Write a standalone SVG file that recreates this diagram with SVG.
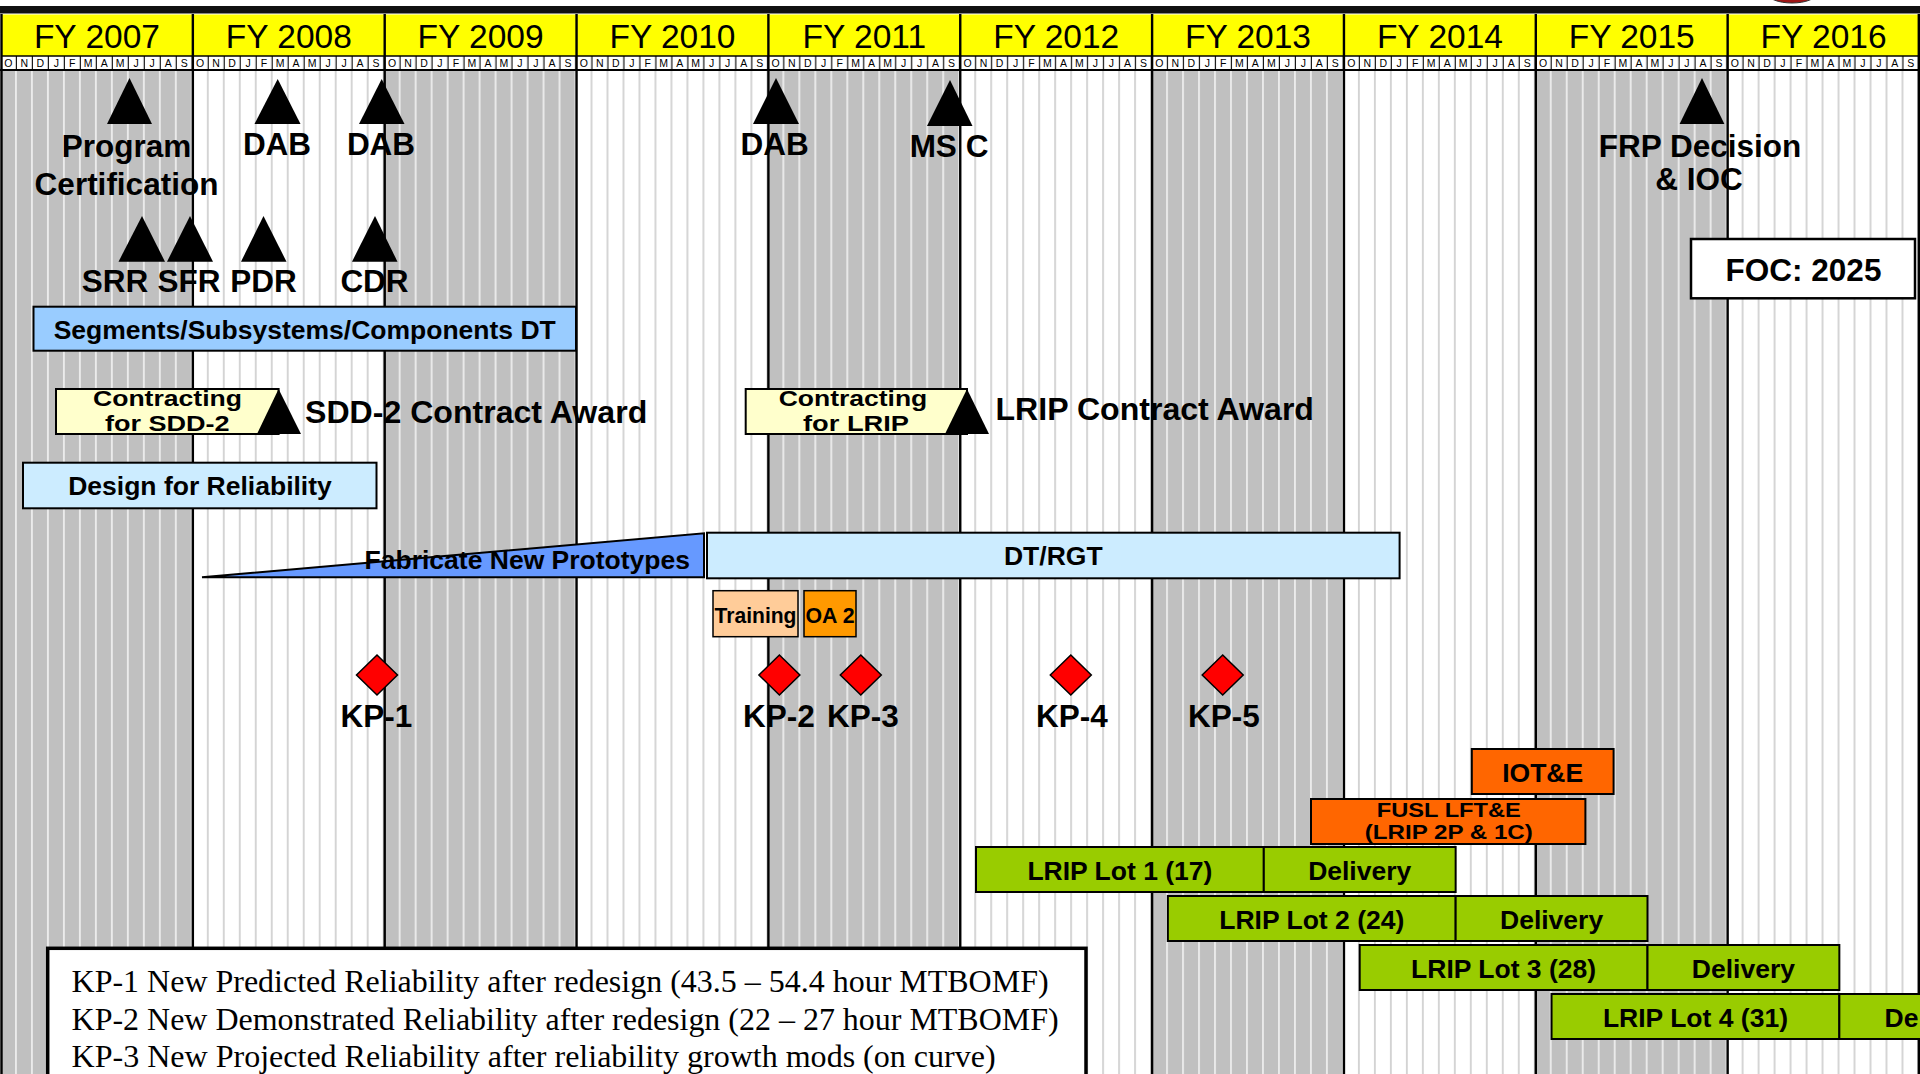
<svg xmlns="http://www.w3.org/2000/svg" width="1920" height="1074" viewBox="0 0 1920 1074">
<style>
.lbl{font-family:"Liberation Sans",Arial,sans-serif;font-weight:bold;font-size:31.5px;fill:#000;text-anchor:middle}
.lbls{font-family:"Liberation Sans",Arial,sans-serif;font-weight:bold;font-size:32.1px;fill:#000}
.bt{font-family:"Liberation Sans",Arial,sans-serif;font-weight:bold;font-size:26.5px;fill:#000;text-anchor:middle}
.st{font-family:"Liberation Sans",Arial,sans-serif;font-weight:bold;font-size:22.5px;fill:#000;text-anchor:middle}
.fs{font-family:"Liberation Sans",Arial,sans-serif;font-weight:bold;font-size:19.5px;fill:#000;text-anchor:middle}
.yr{font-family:"Liberation Sans",Arial,sans-serif;font-size:33.5px;fill:#000;text-anchor:middle}
.mo{font-family:"Liberation Sans",Arial,sans-serif;font-size:10.5px;fill:#000;text-anchor:middle}
.leg{font-family:"Liberation Serif","Times New Roman",serif;font-size:31px;fill:#000}
.tri{fill:#000}
.bar{stroke:#000;stroke-width:2}
.kp{fill:#FF0000;stroke:#000;stroke-width:1.5}
.yl{stroke:#000;stroke-width:2.4}
.lot{fill:#99CC00;stroke:#000;stroke-width:2}
.org{fill:#FF6600;stroke:#000;stroke-width:2}
.cyan{fill:#CCECFF}
.ylw{fill:#FFFFCC}
</style>
<defs>
<pattern id="pGrey" x="1" y="0" width="15.9875" height="20" patternUnits="userSpaceOnUse"><rect width="16" height="20" fill="#C0C0C0"/><rect x="14.3" width="1.3" height="20" fill="#FFFFFF"/></pattern>
<pattern id="pWhite" x="1" y="0" width="15.9875" height="20" patternUnits="userSpaceOnUse"><rect width="16" height="20" fill="#FFFFFF"/><rect x="14.3" width="1.3" height="20" fill="#C0C0C0"/></pattern>
<pattern id="pMon" x="1" y="56" width="15.9875" height="14" patternUnits="userSpaceOnUse"><rect width="16" height="14" fill="#FFFFFF"/><rect x="14.8" width="1.1" height="14" fill="#000"/></pattern>
</defs>
<rect width="1920" height="1074" fill="#FFFFFF"/>
<ellipse cx="1792" cy="-7" rx="25" ry="10" fill="#A01818" stroke="#333" stroke-width="1"/>
<rect x="0" y="6" width="1920" height="7.5" fill="#111"/>

<g id="background">
<rect x="0" y="70" width="192.85" height="1004" fill="url(#pGrey)"/>
<rect x="192.85" y="70" width="191.85" height="1004" fill="url(#pWhite)"/>
<rect x="384.7" y="70" width="191.85" height="1004" fill="url(#pGrey)"/>
<rect x="576.55" y="70" width="191.85" height="1004" fill="url(#pWhite)"/>
<rect x="768.4" y="70" width="191.85" height="1004" fill="url(#pGrey)"/>
<rect x="960.25" y="70" width="191.85" height="1004" fill="url(#pWhite)"/>
<rect x="1152.1" y="70" width="191.85" height="1004" fill="url(#pGrey)"/>
<rect x="1343.95" y="70" width="191.85" height="1004" fill="url(#pWhite)"/>
<rect x="1535.8" y="70" width="191.85" height="1004" fill="url(#pGrey)"/>
<rect x="1727.65" y="70" width="192.35" height="1004" fill="url(#pWhite)"/>
</g>

<g id="header">
<rect x="1" y="14.5" width="1918.5" height="41.5" fill="#FFFF00"/>
<rect x="1" y="56" width="1918.5" height="14" fill="url(#pMon)"/>
<line x1="1" y1="56" x2="1919.5" y2="56" stroke="#000" stroke-width="1.5"/>
<line x1="0" y1="70" x2="1920" y2="70" stroke="#000" stroke-width="1.8"/>
<text class="yr" x="96.9" y="48">FY 2007</text>
<text class="yr" x="288.8" y="48">FY 2008</text>
<text class="yr" x="480.6" y="48">FY 2009</text>
<text class="yr" x="672.5" y="48">FY 2010</text>
<text class="yr" x="864.3" y="48">FY 2011</text>
<text class="yr" x="1056.2" y="48">FY 2012</text>
<text class="yr" x="1248" y="48">FY 2013</text>
<text class="yr" x="1439.9" y="48">FY 2014</text>
<text class="yr" x="1631.7" y="48">FY 2015</text>
<text class="yr" x="1823.6" y="48">FY 2016</text>
<g class="months">
<text class="mo" x="8.3 24.3 40.3 56.3 72.2 88.2 104.2 120.2 136.2 152.2 168.2 184.2" y="66.8">ONDJFMAMJJAS</text>
<text class="mo" transform="translate(191.85,0)" x="8.3 24.3 40.3 56.3 72.2 88.2 104.2 120.2 136.2 152.2 168.2 184.2" y="66.8">ONDJFMAMJJAS</text>
<text class="mo" transform="translate(383.7,0)" x="8.3 24.3 40.3 56.3 72.2 88.2 104.2 120.2 136.2 152.2 168.2 184.2" y="66.8">ONDJFMAMJJAS</text>
<text class="mo" transform="translate(575.55,0)" x="8.3 24.3 40.3 56.3 72.2 88.2 104.2 120.2 136.2 152.2 168.2 184.2" y="66.8">ONDJFMAMJJAS</text>
<text class="mo" transform="translate(767.4,0)" x="8.3 24.3 40.3 56.3 72.2 88.2 104.2 120.2 136.2 152.2 168.2 184.2" y="66.8">ONDJFMAMJJAS</text>
<text class="mo" transform="translate(959.25,0)" x="8.3 24.3 40.3 56.3 72.2 88.2 104.2 120.2 136.2 152.2 168.2 184.2" y="66.8">ONDJFMAMJJAS</text>
<text class="mo" transform="translate(1151.1,0)" x="8.3 24.3 40.3 56.3 72.2 88.2 104.2 120.2 136.2 152.2 168.2 184.2" y="66.8">ONDJFMAMJJAS</text>
<text class="mo" transform="translate(1342.95,0)" x="8.3 24.3 40.3 56.3 72.2 88.2 104.2 120.2 136.2 152.2 168.2 184.2" y="66.8">ONDJFMAMJJAS</text>
<text class="mo" transform="translate(1534.8,0)" x="8.3 24.3 40.3 56.3 72.2 88.2 104.2 120.2 136.2 152.2 168.2 184.2" y="66.8">ONDJFMAMJJAS</text>
<text class="mo" transform="translate(1726.65,0)" x="8.3 24.3 40.3 56.3 72.2 88.2 104.2 120.2 136.2 152.2 168.2 184.2" y="66.8">ONDJFMAMJJAS</text>
</g>
</g>

<g id="year-lines">
<line class="yl" x1="1.5" y1="14" x2="1.5" y2="1074"/>
<line class="yl" x1="192.85" y1="14" x2="192.85" y2="1074"/>
<line class="yl" x1="384.7" y1="14" x2="384.7" y2="1074"/>
<line class="yl" x1="576.55" y1="14" x2="576.55" y2="1074"/>
<line class="yl" x1="768.4" y1="14" x2="768.4" y2="1074"/>
<line class="yl" x1="960.25" y1="14" x2="960.25" y2="1074"/>
<line class="yl" x1="1152.1" y1="14" x2="1152.1" y2="1074"/>
<line class="yl" x1="1343.95" y1="14" x2="1343.95" y2="1074"/>
<line class="yl" x1="1535.8" y1="14" x2="1535.8" y2="1074"/>
<line class="yl" x1="1727.65" y1="14" x2="1727.65" y2="1074"/>
<line class="yl" x1="1918.8" y1="14" x2="1918.8" y2="1074"/>
</g>

<g id="connectors"></g>

<g id="ms-program-certification">
<polygon class="tri" points="129.5,78 107,124 152,124"/>
<text class="lbl" x="126.5" y="157">Program</text>
<text class="lbl" x="126.5" y="195">Certification</text>
</g>
<g id="ms-dab-1">
<polygon class="tri" points="277.7,79 254.5,124 300.5,124"/>
<text class="lbl" x="277" y="155">DAB</text>
</g>
<g id="ms-dab-2">
<polygon class="tri" points="381.7,79 359,124 404.5,124"/>
<text class="lbl" x="381" y="155">DAB</text>
</g>
<g id="ms-dab-3">
<polygon class="tri" points="776,78 753,124 799,124"/>
<text class="lbl" x="774.6" y="155">DAB</text>
</g>
<g id="ms-msc">
<polygon class="tri" points="950,80 927,126 972.5,126"/>
<text class="lbl" x="949" y="157">MS C</text>
</g>
<g id="ms-frp">
<polygon class="tri" points="1702,78 1679.6,124 1724.4,124"/>
<text class="lbl" x="1700" y="157">FRP Decision</text>
<text class="lbl" x="1699" y="190">&amp; IOC</text>
</g>
<g id="foc">
<rect x="1691" y="239" width="224" height="59.3" fill="#FFFFFF" stroke="#000" stroke-width="2.5"/>
<text class="lbl" x="1803.5" y="280.7">FOC: 2025</text>
</g>

<g id="ms-srr">
<polygon class="tri" points="142,216 118.5,261.7 165,261.7"/>
<text class="lbl" x="115" y="292">SRR</text>
</g>
<g id="ms-sfr">
<polygon class="tri" points="190,216 167,261.7 213,261.7"/>
<text class="lbl" x="189" y="292">SFR</text>
</g>
<g id="ms-pdr">
<polygon class="tri" points="263.5,216 241,261.7 286.5,261.7"/>
<text class="lbl" x="263.5" y="292">PDR</text>
</g>
<g id="ms-cdr">
<polygon class="tri" points="375,216 352,261.7 397.5,261.7"/>
<text class="lbl" x="374.5" y="292">CDR</text>
</g>

<g id="segments-dt">
<rect class="bar" x="33.5" y="306.7" width="542.5" height="44" fill="#99CCFF"/>
<text class="bt" x="304.7" y="339">Segments/Subsystems/Components DT</text>
</g>

<g id="contracting-sdd2">
<rect class="bar ylw" x="56" y="389" width="222.6" height="45"/>
<polygon class="tri" points="278.6,389 257,434 301,434"/>
<text class="st" x="167.5" y="406" textLength="149" lengthAdjust="spacingAndGlyphs">Contracting</text>
<text class="st" x="167.3" y="431" textLength="124.6" lengthAdjust="spacingAndGlyphs">for SDD-2</text>
<text class="lbls" x="305" y="423">SDD-2 Contract Award</text>
</g>

<g id="contracting-lrip">
<rect class="bar ylw" x="745.7" y="389" width="221.3" height="45"/>
<polygon class="tri" points="967,389 945,434 989,434"/>
<text class="st" x="853" y="406" textLength="148.6" lengthAdjust="spacingAndGlyphs">Contracting</text>
<text class="st" x="856" y="431" textLength="106" lengthAdjust="spacingAndGlyphs">for LRIP</text>
<text class="lbls" x="995.5" y="420">LRIP Contract Award</text>
</g>

<g id="design-reliability">
<rect class="bar cyan" x="23" y="462.7" width="353.5" height="45.6"/>
<text class="bt" x="200" y="495">Design for Reliability</text>
</g>

<g id="fabricate">
<polygon points="202,577.3 704,533.3 704,577.3" fill="#6699FF" stroke="#000" stroke-width="2" stroke-linejoin="miter"/>
<text class="bt" x="527.3" y="569">Fabricate New Prototypes</text>
</g>

<g id="dt-rgt">
<rect class="bar cyan" x="707" y="532.7" width="692.6" height="45.6"/>
<text class="bt" x="1053.3" y="565">DT/RGT</text>
</g>

<g id="training">
<rect x="713" y="590.7" width="85" height="46" fill="#FFCC99" stroke="#000" stroke-width="1.5"/>
<text class="st" x="755.5" y="622.7" textLength="82" lengthAdjust="spacingAndGlyphs">Training</text>
</g>
<g id="oa2">
<rect x="804" y="590.7" width="52" height="46" fill="#FF9900" stroke="#000" stroke-width="1.5"/>
<text class="st" x="830" y="622.7" textLength="49" lengthAdjust="spacingAndGlyphs">OA 2</text>
</g>

<g id="kp-1">
<polygon class="kp" points="377,655 397.5,675 377,695 356.5,675"/>
<text class="lbl" x="376.5" y="727">KP-1</text>
</g>
<g id="kp-2">
<polygon class="kp" points="779.4,655 799.9,675 779.4,695 758.9,675"/>
<text class="lbl" x="779" y="727">KP-2</text>
</g>
<g id="kp-3">
<polygon class="kp" points="860.8,655 881.3,675 860.8,695 840.3,675"/>
<text class="lbl" x="863" y="727">KP-3</text>
</g>
<g id="kp-4">
<polygon class="kp" points="1070.8,655 1091.3,675 1070.8,695 1050.3,675"/>
<text class="lbl" x="1072" y="727">KP-4</text>
</g>
<g id="kp-5">
<polygon class="kp" points="1222.7,655 1243.2,675 1222.7,695 1202.2,675"/>
<text class="lbl" x="1224" y="727">KP-5</text>
</g>

<g id="iote">
<rect class="org" x="1471.8" y="749" width="141.8" height="45"/>
<text class="bt" x="1542.7" y="781.7">IOT&amp;E</text>
</g>
<g id="fusl">
<rect class="org" x="1311" y="799" width="274.4" height="45"/>
<text class="fs" x="1448.8" y="816.5" textLength="144" lengthAdjust="spacingAndGlyphs">FUSL LFT&amp;E</text>
<text class="fs" x="1448.8" y="839" textLength="168" lengthAdjust="spacingAndGlyphs">(LRIP 2P &amp; 1C)</text>
</g>

<g id="lrip-lot-1">
<rect class="lot" x="976" y="847" width="287.8" height="45"/>
<text class="bt" x="1119.9" y="879.5">LRIP Lot 1 (17)</text>
</g>
<g id="delivery-1">
<rect class="lot" x="1263.8" y="847" width="191.85" height="45"/>
<text class="bt" x="1359.7" y="879.5">Delivery</text>
</g>
<g id="lrip-lot-2">
<rect class="lot" x="1167.85" y="896" width="287.8" height="45"/>
<text class="bt" x="1311.75" y="928.5">LRIP Lot 2 (24)</text>
</g>
<g id="delivery-2">
<rect class="lot" x="1455.65" y="896" width="191.85" height="45"/>
<text class="bt" x="1551.6" y="928.5">Delivery</text>
</g>
<g id="lrip-lot-3">
<rect class="lot" x="1359.7" y="945" width="287.8" height="45"/>
<text class="bt" x="1503.6" y="977.5">LRIP Lot 3 (28)</text>
</g>
<g id="delivery-3">
<rect class="lot" x="1647.5" y="945" width="191.85" height="45"/>
<text class="bt" x="1743.4" y="977.5">Delivery</text>
</g>
<g id="lrip-lot-4">
<rect class="lot" x="1551.55" y="994" width="287.8" height="45"/>
<text class="bt" x="1695.45" y="1026.5">LRIP Lot 4 (31)</text>
</g>
<g id="delivery-4">
<rect class="lot" x="1839.35" y="994" width="95" height="45"/>
<text class="bt" x="1884.5" y="1026.5" style="text-anchor:start">De</text>
</g>

<g id="legend">
<rect x="47.7" y="948.3" width="1038.3" height="140" fill="#FFFFFF" stroke="#000" stroke-width="3.5"/>
<text class="leg" x="71.6" y="991.7" textLength="977" lengthAdjust="spacingAndGlyphs">KP-1 New Predicted Reliability after redesign (43.5 – 54.4 hour MTBOMF)</text>
<text class="leg" x="71.6" y="1030" textLength="987" lengthAdjust="spacingAndGlyphs">KP-2 New Demonstrated Reliability after redesign (22 – 27 hour MTBOMF)</text>
<text class="leg" x="71.6" y="1066.7" textLength="924" lengthAdjust="spacingAndGlyphs">KP-3 New Projected Reliability after reliability growth mods (on curve)</text>
</g>
</svg>
